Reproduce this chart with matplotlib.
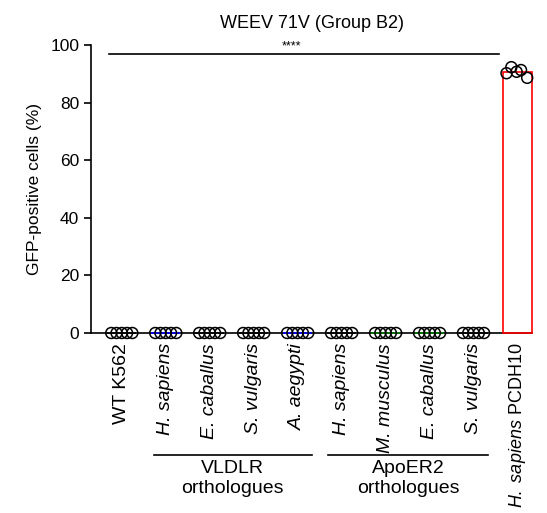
import numpy as np
import matplotlib
matplotlib.use("Agg")
import matplotlib.pyplot as plt
from matplotlib.transforms import blended_transform_factory

plt.rcParams['font.family'] = ['Liberation Sans', 'DejaVu Sans']
plt.rcParams['mathtext.fontset'] = 'custom'
plt.rcParams['mathtext.it'] = 'Liberation Sans:italic'
plt.rcParams['mathtext.rm'] = 'Liberation Sans'

labels = ["WT K562", "H. sapiens", "E. caballus", "S. vulgaris", "A. aegypti",
          "H. sapiens", "M. musculus", "E. caballus", "S. vulgaris", "H. sapiens PCDH10"]
colors = ["black", "blue", "black", "black", "blue",
          "black", "green", "green", "black", "red"]
reps = [
    [0, 0, 0, 0, 0],
    [0, 0, 0, 0, 0],
    [0, 0, 0, 0, 0],
    [0, 0, 0, 0, 0],
    [0, 0, 0, 0, 0],
    [0, 0, 0, 0, 0],
    [0, 0, 0, 0, 0],
    [0, 0, 0, 0, 0],
    [0, 0, 0, 0, 0],
    [90.2, 92.3, 90.7, 91.3, 88.6],
]

fig = plt.figure(figsize=(5.47, 5.13), dpi=100)
ax = fig.add_axes([0.1664, 0.3509, 0.9726 - 0.1664, 0.9123 - 0.3509])

x = np.arange(len(labels))
means = [np.mean(r) for r in reps]
ax.bar(x, means, width=0.66, facecolor="none", edgecolor=colors, linewidth=1.2,
       zorder=2.6, clip_on=False)

zero_off = [-0.24, -0.12, 0.0, 0.12, 0.24]
pc_off = [-0.25, -0.14, -0.02, 0.08, 0.22]
for i, r in enumerate(reps):
    offs = pc_off if max(r) > 0 else zero_off
    ax.scatter(x[i] + np.array(offs), r, s=62, facecolors="none", edgecolors="black",
               linewidths=1.1, zorder=3, clip_on=False)

ax.set_xlim(-0.7, 9.33)
ax.set_ylim(0, 100)
ax.set_yticks([0, 20, 40, 60, 80, 100])
ax.tick_params(axis="y", labelsize=12.5, length=5, width=1.2)
ax.set_xticks(x)
ax.set_xticklabels([])
ax.tick_params(axis="x", length=0)
ax.spines["top"].set_visible(False)
ax.spines["right"].set_visible(False)
ax.spines["left"].set_linewidth(1.2)
ax.spines["bottom"].set_linewidth(1.2)
ax.set_ylabel("GFP-positive cells (%)", fontsize=12.5, labelpad=6)
ax.set_title("WEEV 71V (Group B2)", fontsize=13, pad=12)

trans = blended_transform_factory(ax.transData, ax.transAxes)
for i, lab in enumerate(labels):
    if lab == "WT K562":
        ax.text(x[i], -0.035, lab, rotation=90, ha="center", va="top", fontsize=14, transform=trans)
    elif lab.endswith("PCDH10"):
        ax.text(x[i], -0.035, "$\\it{H.\\ sapiens}$ PCDH10", rotation=90, ha="center", va="top",
                fontsize=13, transform=trans)
    else:
        ax.text(x[i], -0.035, lab, rotation=90, ha="center", va="top", fontsize=14,
                style="italic", transform=trans)

# group brackets
ax.plot([0.73, 4.32], [-0.424, -0.424], color="black", lw=1.2, transform=trans, clip_on=False)
ax.plot([4.7, 8.32], [-0.424, -0.424], color="black", lw=1.2, transform=trans, clip_on=False)
ax.text(2.52, -0.44, "VLDLR\northologues", ha="center", va="top", fontsize=14,
        transform=trans, linespacing=1.25)
ax.text(6.51, -0.44, "ApoER2\northologues", ha="center", va="top", fontsize=14,
        transform=trans, linespacing=1.25)

# significance
ax.plot([-0.3, 8.57], [97, 97], color="black", lw=1.2, clip_on=False)
ax.text(3.86, 97.5, "****", ha="center", va="bottom", fontsize=9)

fig.savefig("out.png", dpi=100)
